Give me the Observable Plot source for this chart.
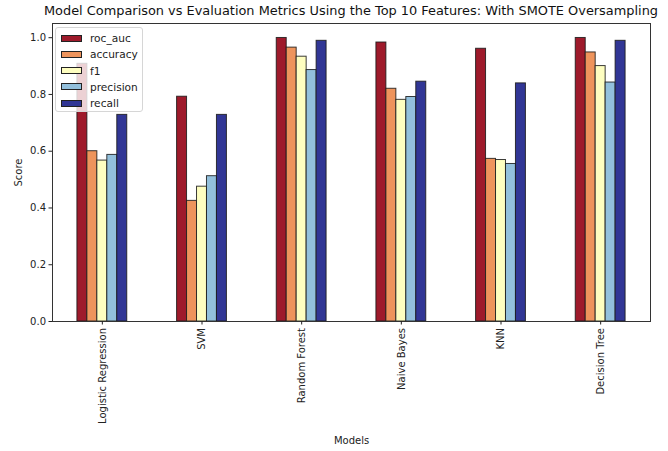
<!DOCTYPE html>
<html>
<head>
<meta charset="utf-8">
<script src="https://cdn.jsdelivr.net/npm/d3@7"></script>
<script src="https://cdn.jsdelivr.net/npm/@observablehq/plot@0.6"></script>
<style>
  body { margin: 0; background: #fff; }
  #wrap { position: relative; width: 668px; height: 451px; font-family: "DejaVu Sans", sans-serif; }
  #title { position: absolute; left: 0; width: 702px; top: 3px; text-align: center; font-size: 12.9px; color: #111; white-space: nowrap; }
  #legend { position: absolute; left: 55px; top: 27px; width: 88px; height: 85px; background: rgba(255,255,255,0.8); border: 1px solid #d6d6d6; border-radius: 3px; box-sizing: border-box; font-size: 10.6px; color: #222; }
  .item { position: absolute; left: 5px; height: 12px; display: flex; align-items: center; }
  .sw { width: 21px; height: 7px; border: 1px solid #222; box-sizing: border-box; margin-right: 8px; }
  #chart svg text { font-size: 10px; fill: #222; }
</style>
</head>
<body>
<div id="wrap">
  <div id="title"></div>
  <div id="chart"></div>
  <div id="legend"></div>
</div>
<script>
const titleText = "Model Comparison vs Evaluation Metrics Using the Top 10 Features: With SMOTE Oversampling";
const models = ["Logistic Regression", "SVM", "Random Forest", "Naive Bayes", "KNN", "Decision Tree"];
const metrics = ["roc_auc", "accuracy", "f1", "precision", "recall"];
const colors = ["#9e1a2b", "#ee945c", "#fefec0", "#93c0dc", "#313695"];
const roc_auc   = [0.908, 0.792, 0.999, 0.983, 0.961, 0.999];
const accuracy  = [0.600, 0.425, 0.965, 0.820, 0.573, 0.948];
const f1        = [0.567, 0.475, 0.933, 0.781, 0.569, 0.900];
const precision = [0.587, 0.512, 0.886, 0.791, 0.555, 0.842];
const recall    = [0.728, 0.728, 0.989, 0.845, 0.839, 0.989];
const yTicks = [0, 0.2, 0.4, 0.6, 0.8, 1.0];

const series = [roc_auc, accuracy, f1, precision, recall];
const rows = [];
models.forEach((m, i) => metrics.forEach((k, j) => {
  rows.push({model: m, mi: i, metric: k, mj: j, value: series[j][i]});
}));
const groupWidth = 0.5, barW = groupWidth / metrics.length;

document.getElementById("title").textContent = titleText;

const chart = Plot.plot({
  width: 668,
  height: 451,
  marginLeft: 52,
  marginRight: 18,
  marginTop: 23,
  marginBottom: 130,
  style: {fontFamily: "DejaVu Sans, sans-serif", fontSize: "10px", color: "#222", background: "#fff"},
  x: {domain: [-0.5, 5.5]},
  y: {domain: [0, 1.05]},
  color: {domain: metrics, range: colors},
  marks: [
    Plot.rectY(rows, {
      x1: d => d.mi - groupWidth / 2 + d.mj * barW,
      x2: d => d.mi - groupWidth / 2 + (d.mj + 1) * barW,
      y1: 0,
      y2: "value",
      fill: "metric",
      stroke: "#1a1a1a",
      strokeWidth: 1,
      strokeOpacity: 0.85
    }),
    Plot.frame({stroke: "#333", strokeWidth: 1}),
    Plot.axisY({ticks: yTicks, tickFormat: d3.format(".1f"), tickSize: 3.5, tickPadding: 3, label: "Score", labelAnchor: "center", labelArrow: "none", labelOffset: 38}),
    Plot.axisX({ticks: d3.range(models.length), tickFormat: i => models[i], tickRotate: -90, tickSize: 3.5, tickPadding: 3, label: "Models", labelAnchor: "center", labelArrow: "none", labelOffset: 122})
  ]
});
document.getElementById("chart").appendChild(chart);

const legend = document.getElementById("legend");
metrics.forEach((k, j) => {
  const it = document.createElement("div");
  it.className = "item";
  it.style.top = (4 + j * 16.3) + "px";
  const sw = document.createElement("div");
  sw.className = "sw";
  sw.style.background = colors[j];
  const tx = document.createElement("span");
  tx.textContent = k;
  it.appendChild(sw);
  it.appendChild(tx);
  legend.appendChild(it);
});
</script>
</body>
</html>
